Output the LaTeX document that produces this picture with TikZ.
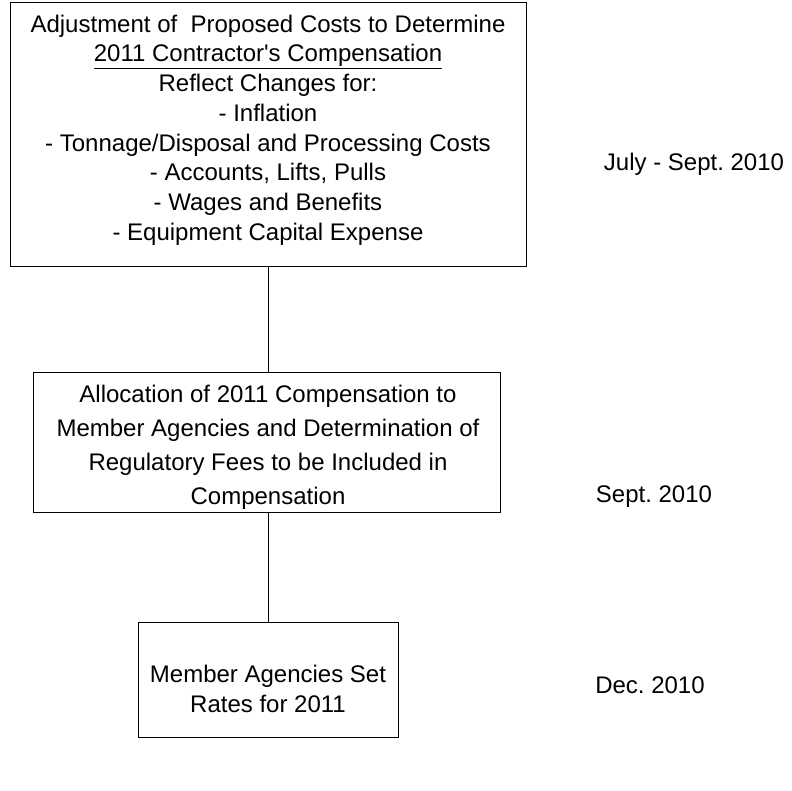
\documentclass[tikz,border=0pt]{standalone}
\usepackage{fontspec}
\setmainfont{Liberation Sans}
\frenchspacing
\begin{document}
\begin{tikzpicture}[x=1pt,y=-1pt,
  boxstyle/.style={draw=black, line width=1.3pt, inner sep=0pt, anchor=north west},
  txt/.style={font=\fontsize{24}{29.7}\selectfont, align=center, inner sep=0pt},
  txtwide/.style={font=\fontsize{24}{34}\selectfont, align=center, inner sep=0pt},
  conn/.style={draw=black, line width=1.3pt}]
\useasboundingbox (0,0) rectangle (792,790);
\node[boxstyle, minimum width=516pt, minimum height=264pt] (b1) at (10,2) {};
\node[txt] (t1) at (268,130) {Adjustment of\ \ Proposed Costs to Determine\\
\underline{2011 Contractor\textquotesingle s Compensation}\\
Reflect Changes for:\\
- Inflation\\
- Tonnage/Disposal and Processing Costs\\
- Accounts, Lifts, Pulls\\
- Wages and Benefits\\
- Equipment Capital Expense};
\node[boxstyle, minimum width=467pt, minimum height=140pt] (b2) at (33,372) {};
\node[txtwide] (t2) at (268,447) {Allocation of 2011 Compensation to\\
Member Agencies and Determination of\\
Regulatory Fees to be Included in\\
Compensation};
\node[boxstyle, minimum width=260pt, minimum height=115pt] (b3) at (138,622) {};
\node[txt] (t3) at (268,689) {Member Agencies Set\\ Rates for 2011};
\node[txt] (l1) at (694,164) {July - Sept. 2010};
\node[txt] (l2) at (654,497) {Sept. 2010};
\node[txt] (l3) at (650,685) {Dec. 2010};
\draw[conn] (b1.south) -- (b1.south |- b2.north);
\draw[conn] (b2.south -| b1.south) -- (b3.north);
\end{tikzpicture}
\end{document}
